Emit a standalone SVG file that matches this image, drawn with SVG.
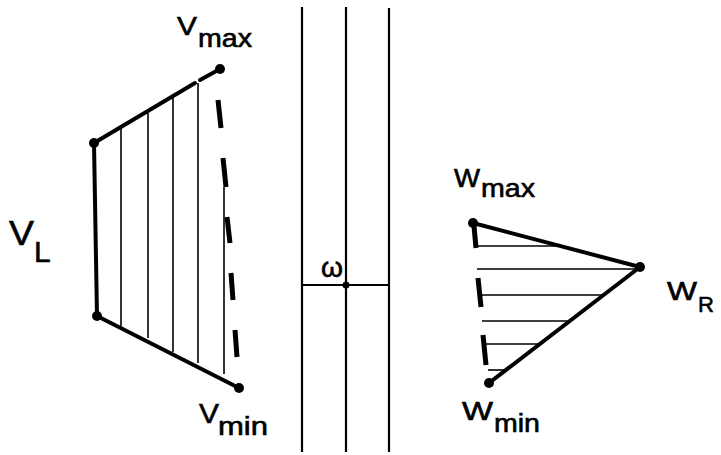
<svg xmlns="http://www.w3.org/2000/svg" width="721" height="455" viewBox="0 0 721 455">
<style>
.thick{stroke:#000;stroke-width:4;fill:none;stroke-linecap:round}
.thin{stroke:#000;stroke-width:1.6;fill:none}
.mid{stroke:#000;stroke-width:2.2;fill:none}
.dash{stroke:#000;stroke-width:5;fill:none}
.dot{fill:#000}
text{font-family:"Liberation Sans",Arial,sans-serif;fill:#000;stroke:#000;stroke-width:0.6}
</style>
<rect width="721" height="455" fill="#fff"/>
<g id="left-diagram">
  <g class="thin">
    <line x1="121" y1="128" x2="121" y2="326"/>
    <line x1="148" y1="112" x2="148" y2="338"/>
    <line x1="173" y1="98" x2="173" y2="352"/>
    <line x1="198" y1="83" x2="198" y2="363"/>
    <line x1="224" y1="187" x2="224" y2="374"/>
  </g>
  <line class="thick" x1="94" y1="143" x2="195" y2="83"/>
  <line class="thick" x1="200" y1="80" x2="220" y2="69"/>
  <line class="thick" x1="94" y1="143" x2="97" y2="316"/>
  <line class="thick" x1="97" y1="316" x2="239" y2="388"/>
  <g class="dash">
    <line x1="218" y1="100" x2="221" y2="128"/>
    <line x1="223" y1="158" x2="226" y2="187"/>
    <line x1="227" y1="217" x2="230" y2="243"/>
    <line x1="231" y1="273" x2="233" y2="300"/>
    <line x1="235" y1="330" x2="237" y2="357"/>
  </g>
  <circle class="dot" cx="220" cy="69" r="5"/>
  <circle class="dot" cx="94" cy="143" r="5"/>
  <circle class="dot" cx="97" cy="316" r="5"/>
  <circle class="dot" cx="239" cy="388" r="5"/>
  <text x="177" y="35" font-size="25" textLength="20" lengthAdjust="spacingAndGlyphs">V</text>
  <text x="198" y="47" font-size="25" textLength="54" lengthAdjust="spacingAndGlyphs">max</text>
  <text x="199" y="423" font-size="27" textLength="20" lengthAdjust="spacingAndGlyphs">V</text>
  <text x="218" y="435" font-size="25" textLength="50" lengthAdjust="spacingAndGlyphs">min</text>
  <text x="9" y="245" font-size="35" textLength="25" lengthAdjust="spacingAndGlyphs">V</text>
  <text x="34" y="262" font-size="30">L</text>
</g>
<g id="center">
  <g class="mid">
    <line x1="302" y1="7" x2="302" y2="452"/>
    <line x1="346" y1="7" x2="346" y2="452"/>
    <line x1="389" y1="8" x2="389" y2="452"/>
    <line x1="302" y1="285" x2="389" y2="285"/>
  </g>
  <circle class="dot" cx="346" cy="285" r="3.5"/>
  <text x="321" y="277" font-size="28" textLength="22" lengthAdjust="spacingAndGlyphs">ω</text>
</g>
<g id="right-diagram">
  <g class="thin">
    <line x1="477" y1="246" x2="560" y2="246"/>
    <line x1="477" y1="269" x2="640" y2="269"/>
    <line x1="482" y1="295" x2="604" y2="295"/>
    <line x1="482" y1="321" x2="570" y2="321"/>
    <line x1="486" y1="344" x2="540" y2="344"/>
    <line x1="488" y1="370" x2="506" y2="370"/>
  </g>
  <line class="thick" x1="473" y1="223" x2="640" y2="267"/>
  <line class="thick" x1="640" y1="267" x2="489" y2="383"/>
  <g class="dash">
    <line x1="474" y1="226" x2="476" y2="248"/>
    <line x1="478" y1="278" x2="481" y2="307"/>
    <line x1="483" y1="335" x2="486" y2="365"/>
  </g>
  <circle class="dot" cx="473" cy="223" r="5"/>
  <circle class="dot" cx="640" cy="267" r="5"/>
  <circle class="dot" cx="489" cy="383" r="5"/>
  <text x="454" y="187" font-size="25" textLength="26" lengthAdjust="spacingAndGlyphs">W</text>
  <text x="481" y="197" font-size="25" textLength="54" lengthAdjust="spacingAndGlyphs">max</text>
  <text x="462" y="420" font-size="25" textLength="31" lengthAdjust="spacingAndGlyphs">W</text>
  <text x="494" y="432" font-size="25" textLength="46" lengthAdjust="spacingAndGlyphs">min</text>
  <text x="667" y="300" font-size="25" textLength="30" lengthAdjust="spacingAndGlyphs">W</text>
  <text x="698" y="312" font-size="22">R</text>
</g>
</svg>
